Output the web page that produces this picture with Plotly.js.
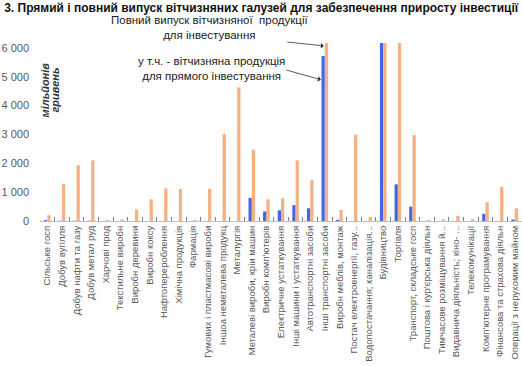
<!DOCTYPE html>
<html>
<head>
<meta charset="utf-8">
<script src="https://cdn.plot.ly/plotly-3.0.1.min.js"></script>
<style>html,body{margin:0;padding:0;background:#fff;}#chart{width:522px;height:366px;}</style>
</head>
<body>
<div id="chart"></div>
<script>
const categories = [
  "Сільське госп", "Добув вугілля", "Добув нафти та газу", "Добув метал руд",
  "Харчові прод", "Текстильне виробн", "Виробн деревини", "Виробн коксу",
  "Нафтоперероблення", "Хімічна продукція", "Фармація",
  "Гумових і пластмасові вироби", "Іншоа неметалева продукц", "Металургія",
  "Металеві вироби, кріи машин", "Виробн комп'ютерів", "Електричне устаткування",
  "Інші машини і устаткування", "Автотранспортні засоби", "Інші транспортні засоби",
  "Виробн меблів, монтаж", "Постач електроенергії, газу...", "Водопостачання; каналізація...",
  "Будівництво", "Торгівля", "Транспорт, складське госп", "Поштова і кур'єрська діяльн",
  "Тимчасове розміщування й...", "Видавнича діяльність; кіно- ...", "Телекомунікації",
  "Комп'ютерне програмування", "Фінансова та страхова діяльн", "Операції з нерухомим майном"
];
const directValues = [30, 10, 10, 10, 0, 0, 0, 0, 0, 0, 0, 0, 0, 0, 800, 330, 370, 550, 440, 5720,
  40, 0, 0, 6170, 1270, 500, 0, 0, 0, 0, 250, 0, 50];
const fullValues = [200, 1290, 1930, 2100, 30, 50, 400, 750, 1130, 1110, 30, 1120, 3020, 4630, 2470, 750, 790, 2100, 1420, 6170,
  380, 2990, 140, 6170, 6170, 2980, 30, 60, 180, 60, 650, 1190, 440];
const yTicks = [0, 1000, 2000, 3000, 4000, 5000, 6000];

const font = "Liberation Sans, Arial, sans-serif";
const data = [
  {type: "bar", x: categories, y: directValues, name: "direct", marker: {color: "#4266e6"}},
  {type: "bar", x: categories, y: fullValues, name: "full", marker: {color: "#f4b183"}}
];
const layout = {
  width: 522, height: 366,
  margin: {l: 40, r: 0, t: 43, b: 144.5, pad: 0},
  paper_bgcolor: "#fff", plot_bgcolor: "#fff",
  showlegend: false,
  barmode: "group", bargap: 0.55, bargroupgap: 0,
  separators: ". ",
  font: {family: font, color: "#595959"},
  title: {text: "<b>3. Прямий і повний випуск вітчизняних галузей для забезпечення приросту інвестиції</b>",
    x: 0.008, xanchor: "left", y: 0.978, yanchor: "middle", font: {size: 12, color: "#111", family: font}},
  xaxis: {
    type: "category", showgrid: false, zeroline: false,
    showline: true, linecolor: "#bfbfbf", linewidth: 1,
    ticks: "inside", tickson: "boundaries", ticklen: 4, tickcolor: "#7f7f7f", tickwidth: 1,
    tickangle: -90, tickfont: {size: 9.5, color: "#595959"}
  },
  yaxis: {
    range: [0, 6170], tickvals: yTicks, tickformat: ",d", showgrid: false, zeroline: false, showline: false,
    ticks: "", ticklabelstandoff: 10, tickfont: {size: 11, color: "#595959"}
  },
  annotations: [
    {xref: "paper", yref: "paper", x: 0.0095, y: 0.737, xanchor: "center", yanchor: "middle", textangle: -90,
      text: "<b><i>мільйонів</i></b>", showarrow: false, font: {size: 11, color: "#333"}},
    {xref: "paper", yref: "paper", x: 0.0305, y: 0.737, xanchor: "center", yanchor: "middle", textangle: -90,
      text: "<b><i>гривень</i></b>", showarrow: false, font: {size: 11, color: "#333"}},
    {xref: "paper", yref: "paper", x: 0.352, y: 1.086, xanchor: "center", yanchor: "middle",
      text: "Повний випуск вітчизняної  продукції<br>для інвестування", showarrow: false, align: "center",
      font: {size: 11.5, color: "#1a1a1a"}},
    {xref: "paper", yref: "paper", x: 0.355, y: 0.857, xanchor: "center", yanchor: "middle",
      text: "у т.ч. - вітчизняна продукція<br>для прямого інвестування", showarrow: false, align: "center",
      font: {size: 11.5, color: "#1a1a1a"}},
    {x: "Інші транспортні засоби", y: 6070, xshift: -1, text: "", showarrow: true, arrowhead: 1,
      arrowsize: 1.2, arrowwidth: 0.8, arrowcolor: "#333", axref: "pixel", ayref: "pixel", ax: -38, ay: -4},
    {x: "Інші транспортні засоби", y: 4900, xshift: -4, text: "", showarrow: true, arrowhead: 1,
      arrowsize: 1.2, arrowwidth: 0.8, arrowcolor: "#333", axref: "pixel", ayref: "pixel", ax: -36, ay: -10}
  ]
};
Plotly.newPlot("chart", data, layout, {displayModeBar: false, staticPlot: true});
</script>
</body>
</html>
